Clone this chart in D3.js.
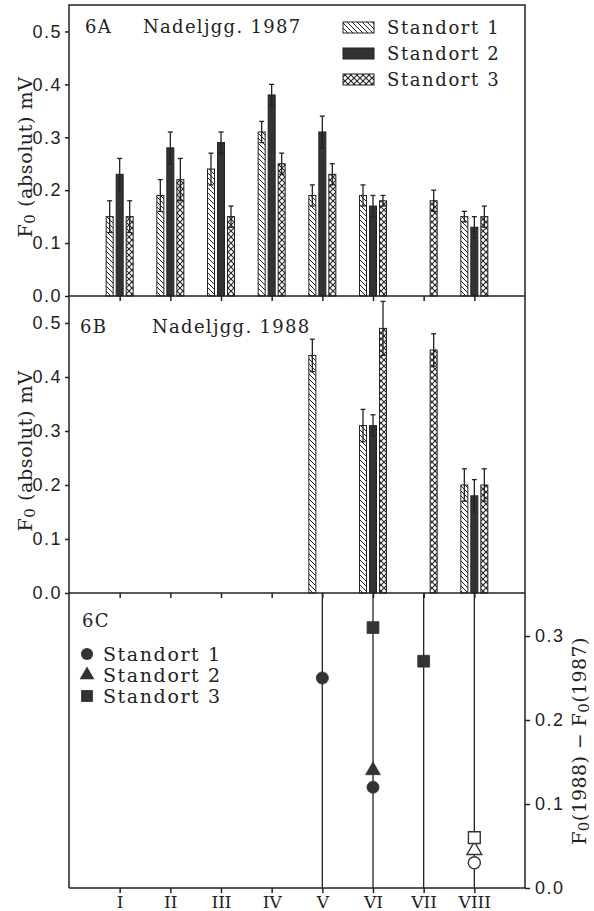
<!DOCTYPE html>
<html lang="de">
<head>
<meta charset="UTF-8">
<title>Fo Nadeljahrgang</title>
<style>
    body { margin: 0; background: #fff; }
    svg { display: block; }
    .txt { font-family: "DejaVu Serif", serif; fill: #222; letter-spacing: 1.3px; }
    .tick text { font-family: "Liberation Sans", Arial, sans-serif; font-size: 18px; fill: #222; letter-spacing: 1.5px; }
    .tick line, .domain { stroke: #222; stroke-width: 1.5; }
</style>
</head>
<body>
<script src="https://cdnjs.cloudflare.com/ajax/libs/d3/7.8.5/d3.min.js"></script>
<script>
    const width = 594;
    const height = 911;

    const categories = ["I", "II", "III", "IV", "V", "VI", "VII", "VIII"];
    const sites = ["Standort 1", "Standort 2", "Standort 3"];

    // 6A Nadeljgg. 1987, mean and error
    const a1 = [0.15, 0.19, 0.24, 0.31, 0.19, 0.19, null, 0.15];
    const a2 = [0.23, 0.28, 0.29, 0.38, 0.31, 0.17, null, 0.13];
    const a3 = [0.15, 0.22, 0.15, 0.25, 0.23, 0.18, 0.18, 0.15];
    const ea1 = [0.03, 0.03, 0.03, 0.02, 0.02, 0.02, null, 0.01];
    const ea2 = [0.03, 0.03, 0.02, 0.02, 0.03, 0.02, null, 0.02];
    const ea3 = [0.03, 0.04, 0.02, 0.02, 0.02, 0.01, 0.02, 0.02];

    // 6B Nadeljgg. 1988
    const b1 = [null, null, null, null, 0.44, 0.31, null, 0.20];
    const b2 = [null, null, null, null, null, 0.31, null, 0.18];
    const b3 = [null, null, null, null, null, 0.49, 0.45, 0.20];
    const eb1 = [null, null, null, null, 0.03, 0.03, null, 0.03];
    const eb2 = [null, null, null, null, null, 0.02, null, 0.03];
    const eb3 = [null, null, null, null, null, 0.05, 0.03, 0.03];

    // 6C F0(1988) - F0(1987)
    const c1 = [null, null, null, null, 0.25, 0.12, null, 0.03];
    const c2 = [null, null, null, null, null, 0.14, null, 0.045];
    const c3 = [null, null, null, null, null, 0.31, 0.27, 0.06];
    const cOpen = [false, false, false, false, false, false, false, true];

    const yTicksAB = [0, 0.1, 0.2, 0.3, 0.4, 0.5];
    const yTicksC = [0, 0.1, 0.2, 0.3];

    const left = 69, right = 525;
    const ink = "#222", dark = "#333";

    const svg = d3.select("body").append("svg")
        .attr("width", width)
        .attr("height", height);

    // patterns
    const defs = svg.append("defs");
    const hatch = defs.append("pattern").attr("id", "hatch")
        .attr("patternUnits", "userSpaceOnUse").attr("width", 5).attr("height", 5);
    hatch.append("rect").attr("width", 5).attr("height", 5).attr("fill", "#fff");
    hatch.append("path").attr("d", "M0,0L5,5M-1,4L1,6M4,-1L6,1")
        .attr("stroke", ink).attr("stroke-width", 1);
    const cross = defs.append("pattern").attr("id", "cross")
        .attr("patternUnits", "userSpaceOnUse").attr("width", 6).attr("height", 6);
    cross.append("rect").attr("width", 6).attr("height", 6).attr("fill", "#fff");
    cross.append("path").attr("d", "M0,0L6,6M6,0L0,6")
        .attr("stroke", ink).attr("stroke-width", 1.1);
    const fills = ["url(#hatch)", dark, "url(#cross)"];

    const x = d3.scaleLinear().domain([0, categories.length + 1]).range([left, right]);
    const xi = i => x(i + 1);
    const offsets = [-10, 0, 10];
    const barW = 7;

    const yA = d3.scaleLinear().domain([0, 0.55]).range([296, 5]);
    const yB = d3.scaleLinear().domain([0, 0.55]).range([593, 296]);
    const yC = d3.scaleLinear().domain([0, 0.35]).range([888, 594]);

    function barPanel(y, series, errs) {
        const g = svg.append("g");
        series.forEach((vals, s) => {
            const pts = vals.map((v, i) => ({ v, e: errs[s][i], i })).filter(d => d.v != null);
            g.selectAll(null).data(pts).enter().append("rect")
                .attr("x", d => xi(d.i) + offsets[s] - barW / 2)
                .attr("y", d => y(d.v))
                .attr("width", barW)
                .attr("height", d => y(0) - y(d.v))
                .attr("fill", fills[s])
                .attr("stroke", ink)
                .attr("stroke-width", 1);
            const eg = g.selectAll(null).data(pts).enter().append("g")
                .attr("stroke", ink).attr("stroke-width", 1.3)
                .attr("transform", d => `translate(${xi(d.i) + offsets[s]},0)`);
            eg.append("line").attr("y1", d => y(d.v - d.e)).attr("y2", d => y(d.v + d.e));
            eg.append("line").attr("x1", -2.5).attr("x2", 2.5)
                .attr("y1", d => y(d.v + d.e)).attr("y2", d => y(d.v + d.e));
            eg.append("line").attr("x1", -2.5).attr("x2", 2.5)
                .attr("y1", d => y(d.v - d.e)).attr("y2", d => y(d.v - d.e));
        });
        svg.append("g").attr("transform", `translate(${left},0)`)
            .call(d3.axisLeft(y).tickValues(yTicksAB).tickFormat(d3.format(".1f"))
                .tickSize(4).tickPadding(3))
            .call(a => a.select(".domain").remove());
        svg.append("g").attr("transform", `translate(0,${y(0)})`)
            .call(d3.axisBottom(x).tickValues(d3.range(1, categories.length + 1))
                .tickFormat("").tickSize(5))
            .call(a => a.select(".domain").attr("d", `M${left},0H${right}`));
    }

    barPanel(yA, [a1, a2, a3], [ea1, ea2, ea3]);
    barPanel(yB, [b1, b2, b3], [eb1, eb2, eb3]);

    // frame lines
    const frame = svg.append("g").attr("stroke", ink).attr("stroke-width", 1.5).attr("fill", "none");
    frame.append("path").attr("d", `M${left},888V5H${right}V888H${left}`);

    // panel C
    const stems = categories.map((c, i) => i).filter(i => c1[i] != null || c2[i] != null || c3[i] != null);
    svg.append("g").selectAll("line").data(stems).enter().append("line")
        .attr("x1", d => xi(d)).attr("x2", d => xi(d))
        .attr("y1", yC(0)).attr("y2", yC.range()[1])
        .attr("stroke", ink).attr("stroke-width", 1.3);

    const shapes = [d3.symbolCircle, d3.symbolTriangle, d3.symbolSquare];
    const sizes = [115, 95, 140];
    [c1, c2, c3].forEach((vals, s) => {
        const pts = vals.map((v, i) => ({ v, i })).filter(d => d.v != null);
        svg.append("g").selectAll("path").data(pts).enter().append("path")
            .attr("d", d3.symbol().type(shapes[s]).size(sizes[s]))
            .attr("transform", d => `translate(${xi(d.i)},${yC(d.v)})`)
            .attr("fill", d => cOpen[d.i] ? "#fff" : dark)
            .attr("stroke", dark)
            .attr("stroke-width", d => cOpen[d.i] ? 1.4 : 0.8);
    });

    svg.append("g").attr("transform", `translate(${right},0)`)
        .call(d3.axisRight(yC).tickValues(yTicksC).tickFormat(d3.format(".1f"))
            .tickSize(5).tickPadding(5))
        .call(a => a.select(".domain").remove());
    svg.append("g").attr("transform", `translate(0,${yC(0)})`)
        .call(d3.axisBottom(x).tickValues(d3.range(1, categories.length + 1))
            .tickFormat(d => categories[d - 1]).tickSize(5).tickPadding(3))
        .call(a => a.select(".domain").remove())
        .selectAll("text")
        .attr("class", "txt")
        .style("font-family", "'DejaVu Serif', serif")
        .style("letter-spacing", "0")
        .style("font-size", "17px");

    // texts
    const T = (px, py, str, size) => svg.append("text").attr("class", "txt")
        .attr("x", px).attr("y", py).style("font-size", size + "px").text(str);
    T(85, 33, "6A", 18);
    T(143, 33, "Nadeljgg. 1987", 18);
    T(80, 333, "6B", 18);
    T(152, 333, "Nadeljgg. 1988", 18);
    T(82, 627, "6C", 18);

    // legend A
    sites.forEach((s, k) => {
        const ly = 28 + k * 26;
        svg.append("rect").attr("x", 343).attr("y", ly - 6).attr("width", 31).attr("height", 11)
            .attr("fill", fills[k]).attr("stroke", ink).attr("stroke-width", 1);
        T(387, ly + 6, s, 18).style("letter-spacing", "1.6px");
    });

    // legend C
    sites.forEach((s, k) => {
        const ly = 654 + k * 21;
        svg.append("path").attr("d", d3.symbol().type(shapes[k]).size(sizes[k]))
            .attr("transform", `translate(87,${ly})`).attr("fill", dark);
        T(103, ly + 7, s, 19).style("letter-spacing", "1.6px");
    });

    // axis titles
    function yTitle(cx, cy, parts) {
        const t = svg.append("text").attr("class", "txt")
            .attr("transform", `translate(${cx},${cy}) rotate(-90)`)
            .attr("text-anchor", "middle").style("font-size", "19px");
        parts.forEach(p => {
            const ts = t.append("tspan").text(p.s);
            if (p.sub) ts.style("font-size", "15px").attr("dy", 3);
            if (p.up) ts.attr("dy", -3);
        });
        return t;
    }
    const leftTitle = [{ s: "F" }, { s: "0", sub: true }, { s: " (absolut)  mV", up: true }];
    yTitle(32, 157, leftTitle).style("letter-spacing", "0.6px");
    yTitle(32, 451, leftTitle).style("letter-spacing", "0.6px");
    yTitle(586, 741, [{ s: "F" }, { s: "0", sub: true }, { s: "(1988) \u2212 F", up: true },
        { s: "0", sub: true }, { s: "(1987)", up: true }]).style("letter-spacing", "0.4px");
</script>
</body>
</html>
